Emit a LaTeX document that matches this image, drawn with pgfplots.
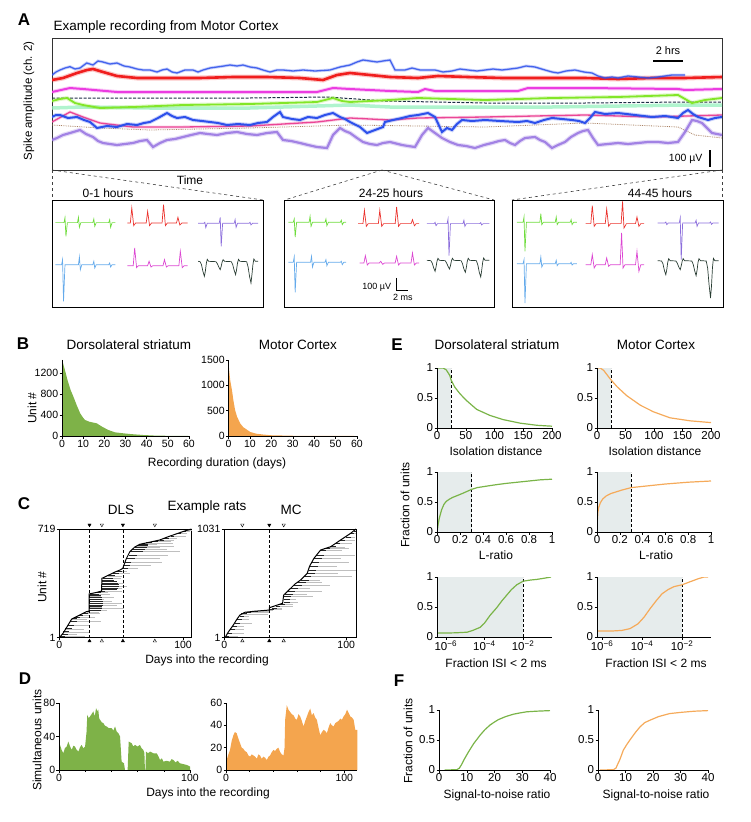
\documentclass[border=0pt]{standalone}
\usepackage{pgfplots}
\usepackage{pgfplotstable}
\pgfplotsset{compat=1.18}
\usepackage{fontspec}
\setmainfont{Liberation Sans}
\definecolor{bgreen}{RGB}{126,178,72}
\definecolor{borange}{RGB}{244,165,78}
\definecolor{lgreen}{RGB}{122,180,72}
\definecolor{lorange}{RGB}{245,170,90}
\definecolor{shade}{RGB}{230,236,236}
\definecolor{wg}{RGB}{110,220,60}
\definecolor{wr}{RGB}{235,50,45}
\definecolor{wp}{RGB}{140,110,220}
\definecolor{wb}{RGB}{100,170,235}
\definecolor{wm}{RGB}{220,70,210}
\definecolor{wk}{RGB}{40,60,50}
\definecolor{tb}{RGB}{45,80,235}
\definecolor{tr}{RGB}{240,30,30}
\definecolor{tm}{RGB}{235,60,225}
\definecolor{tn}{RGB}{30,45,70}
\definecolor{tg}{RGB}{130,230,40}
\definecolor{tt}{RGB}{150,240,190}
\definecolor{tp}{RGB}{235,70,150}
\definecolor{tbr}{RGB}{170,130,100}
\definecolor{tpu}{RGB}{150,115,225}
\newcommand\fP{\fontsize{17}{19}\selectfont\bfseries}
\newcommand\fT{\fontsize{13.5}{15}\selectfont}
\newcommand\fL{\fontsize{12}{14}\selectfont}
\newcommand\fK{\fontsize{10.5}{12}\selectfont}
\newcommand\fE{\fontsize{11.5}{13}\selectfont}
\newcommand\fS{\fontsize{9}{10}\selectfont}
\pgfplotsset{
  base/.style={scale only axis, axis line style={line width=0.6pt}, tick align=outside,
    major tick length=2.5pt, minor tick length=1.8pt, tick style={line width=0.5pt,black},
    /pgf/number format/assume math mode=true, /pgf/number format/1000 sep={},
    tick label style={font=\fK, inner sep=1.2pt}},
  lb/.style={base, axis x line*=bottom, axis y line*=left},
  ef/.style={lb, tick label style={font=\fE}, ymin=0, ymax=1, ytick={0,0.5,1}, axis on top, height=60pt},
  wave/.style={scale only axis, ymin=62, ymax=382, y dir=reverse, height=106.7pt,
    xtick=\empty, ytick=\empty, axis line style={line width=0.8pt}},
  fuzz/.style={preaction={draw, line width=#1, opacity=0.25}},
}
\pgfplotstableread{
x y l s
1 10 20 4
2 25 12 5
3 40 22 5
5 60 15 5
7 85 18 5
9 110 25 5
10.5 126 12 4
13 138 16 4
16 150 8 3
19 160 14 4
22 172 10 3
24.3 185 14 9
24.3 195 28 10
24.3 205 10 10
24.3 215 22 11
24.3 228 26 11
24.3 240 18 11
24.3 252 12 10
24.3 265 20 10
24.3 278 9 9
25 290 16 7
29 300 10 5
33 306 18 4
34.5 318 12 12
34.5 330 16 13
34.5 342 20 14
34.5 352 14 14
34.5 362 18 13
34.5 372 12 12
34.6 382 10 10
35 392 15 8
39 410 12 6
43 425 14 5
47 440 8 4
51.4 460 12 4
52 480 22 5
53 500 30 5
55 525 26 6
56 545 32 7
57.5 570 40 10
59 582 28 10
61 596 20 10
63 608 30 9
65 618 14 7
70 628 22 5
76 636 14 4
81 646 12 4
85 658 10 4
90 673 12 3
95 688 8 3
100 703 6 2
104 714 3 1.5
}\dlsC
\pgfplotstableread{
x y l s
1 15 10 3
2.5 45 14 4
4.5 80 12 4
6.5 110 10 4
8.5 140 14 4
10.5 175 10 4
12.5 205 8 4
14 228 22 5
17.5 243 20 4
25 252 12 3
32 258 8 3
37 268 10 4
39 282 8 4
42 300 14 4
46 318 10 4
48.8 340 12 5
48.8 365 10 5
48.8 390 24 6
50 415 18 6
52 440 28 6
54.5 468 16 6
56.5 495 30 7
60 525 20 7
62.5 548 16 7
65 585 40 6
68 612 25 6
69.5 643 38.5 6
70.5 680 22 6
72 715 30 6
73.5 752 22 7
75.5 785 32 6
78.5 830 18 5
82 846 20 5
87 862 12 5
91 893 14 4
95 925 12 4
99.5 955 8 4
103.5 988 4.5 3
106 1012 2 2
}\mcC
\begin{document}
\begin{tikzpicture}
\path[use as bounding box] (0pt,0pt) rectangle (750pt,-822pt);
%================ Panel A
\node[font=\fP] at (24pt,-20pt) {A};
\node[anchor=west, font=\fT] at (50pt,-27pt) {Example recording from Motor Cortex};
\node[rotate=90, font=\fontsize{11.5}{13}\selectfont] at (29pt,-101pt) {Spike amplitude (ch. 2)};
\begin{axis}[scale only axis, at={(52pt,-170pt)}, anchor=south west, width=670pt, height=132pt,
  xmin=52, xmax=722, ymin=38, ymax=170, y dir=reverse, xtick=\empty, ytick=\empty,
  axis line style={line width=0.9pt, black!80}]
\addplot[tt, line width=3.5pt, opacity=0.75] coordinates {(52,108)(83,107)(150,108)(250,108)(350,105)(390,107)(450,107)(552,107)(620,106)(685,105)(722,105)};
\addplot[tn, line width=1pt, dash pattern=on 3pt off 1.5pt] coordinates {(52,98)(150,98)(250,98)(327,97)(385,101)(485,103)(585,103)(685,102)(722,102)};
\addplot[tg, line width=1.8pt, fuzz=4pt] coordinates {(52,101)(60,99)(67,98)(75,103)(83,105)(100,108)(133,107)(183,105)(250,104)(317,102)(333,98)(342,101)(350,102)(390,100)(418,98)(485,100)(552,98)(618,97)(678,95)(692,103)(705,100)(722,98)};
\addplot[tm, line width=2pt, fuzz=4pt] coordinates {(52,92)(70,88)(83,89)(117,92)(183,92)(250,92)(317,92)(333,88)(350,89)(390,91)(418,92)(425,89)(435,91)(518,91)(528,88)(585,88)(678,89)(685,90)(722,89)};
\addplot[tr, line width=2.6pt, fuzz=5pt] coordinates {(52,80)(63,78)(77,73)(87,70)(93,69)(103,72)(117,76)(137,78)(167,78)(200,78)(233,77)(267,77)(300,78)(323,80)(337,75)(350,73)(370,75)(390,77)(418,78)(438,76)(468,77)(502,78)(552,78)(585,78)(618,79)(652,78)(685,78)(722,77)};
\addplot[tb, line width=1.3pt, opacity=0.85, fuzz=3pt] coordinates {(52,75)(56,72)(60,70)(65,68)(70,66.7)(75,69)(80,68)(86.7,63)(93,65)(98,61)(103,62)(110,64)(117,63)(124,66)(130,67)(137,69)(143,70)(150,70)(157,72)(162,70)(167,69)(172,72)(177,73)(185,70)(193,70)(198,72)(203,70)(210,68)(217,67)(224,66)(230,65)(237,66)(243,65)(250,67)(257,68)(263,70)(270,72)(277,70)(283,70)(293,71)(303,70)(315,71)(330,70)(340,67)(345,66)(350,65)(357,62)(363,60)(370,61)(377,62)(383,61)(390,60)(395,70)(405,70)(412,68)(420,70)(435,70)(443,72)(452,71)(460,69)(468,70)(477,71)(485,70)(493,69)(502,70)(510,69)(518,68)(526,66)(535,67)(545,70)(552,72)(558,73)(566,71)(575,70)(584,72)(592,73)(598,76)(605,78)(612,77)(618,78)(628,76)(638,77)(648,78)(658,77)(665,76)(672,75)(685,75)};
\addplot[tp, line width=1.3pt, fuzz=3pt] coordinates {(52,122)(70,112)(83,117)(100,123)(133,127)(183,127)(250,126)(317,122)(350,118)(390,120)(418,118)(485,117)(585,115)(652,117)(722,115)};
\addplot[tbr, line width=0.8pt, densely dotted] coordinates {(52,125)(100,128)(150,130)(250,128)(350,125)(485,127)(585,123)(678,127)(695,135)(722,138)};
\addplot[tb, line width=2pt, fuzz=4pt] coordinates {(52,117)(56,115)(60,115)(68,118)(77,117)(84,120)(90,122)(97,128)(107,126)(117,127)(127,124)(137,125)(144,123)(150,122)(158,118)(167,113)(172,116)(177,118)(185,117)(193,120)(202,121)(210,122)(218,123)(227,125)(238,124)(250,125)(258,123)(267,122)(273,117)(280,112)(283,117)(292,119)(300,120)(308,117)(317,118)(325,115)(333,113)(340,117)(345,119)(350,122)(360,127)(367,133)(375,130)(383,127)(385,122)(393,120)(402,118)(410,116)(418,115)(428,113)(435,117)(442,132)(447,128)(452,130)(457,124)(462,120)(472,121)(485,120)(500,121)(518,122)(527,121)(535,123)(544,120)(552,118)(562,119)(572,120)(579,121)(585,123)(590,118)(595,112)(605,114)(618,113)(635,115)(652,117)(665,116)(678,118)(683,113)(688,110)(693,114)(698,117)(708,120)(715,118)(722,117)};
\addplot[tpu, line width=2.2pt, opacity=0.85, fuzz=4.5pt] coordinates {(52,140)(57,138)(63,135)(70,133)(80,130)(86,134)(93,137)(98,141)(103,143)(110,144)(117,145)(125,144)(133,143)(140,141)(147,140)(153,147)(160,143)(167,140)(175,139)(183,137)(191,135)(200,133)(208,134)(217,135)(227,133)(237,132)(247,134)(257,135)(267,133)(277,132)(283,140)(291,141)(300,143)(308,145)(317,147)(327,148)(333,135)(340,128)(345,131)(350,133)(357,138)(363,142)(370,144)(377,145)(383,143)(390,142)(402,145)(408,146)(415,147)(422,135)(428,128)(435,133)(442,138)(450,142)(458,145)(466,146)(475,148)(484,145)(492,143)(499,141)(505,140)(510,143)(515,145)(520,141)(525,138)(535,137)(540,140)(545,142)(552,148)(558,145)(565,142)(571,137)(578,133)(583,131)(588,130)(593,138)(598,145)(608,144)(618,143)(628,144)(638,143)(648,142)(658,142)(668,143)(678,142)(685,132)(692,120)(697,121)(702,123)(707,128)(712,133)(717,134)(722,135)};
\draw[line width=2.5pt] (axis cs:653,61) -- (axis cs:683,61);
\node[font=\fontsize{11}{12}\selectfont] at (axis cs:668,51) {2 hrs};
\draw[line width=2.2pt] (axis cs:710,150) -- (axis cs:710,167);
\node[font=\fontsize{10.5}{12}\selectfont, anchor=east] at (axis cs:706,159) {100 µV};
\end{axis}
\node[font=\fL] at (190pt,-180pt) {Time};
\draw[dashed, line width=0.6pt, black!75] (52pt,-170pt) -- (52pt,-200pt);
\draw[dashed, line width=0.6pt, black!75] (52pt,-170pt) -- (263pt,-200pt);
\draw[dashed, line width=0.6pt, black!75] (382pt,-170pt) -- (284.6pt,-200pt);
\draw[dashed, line width=0.6pt, black!75] (382pt,-170pt) -- (494pt,-200pt);
\draw[dashed, line width=0.6pt, black!75] (722pt,-170pt) -- (512pt,-200pt);
\draw[dashed, line width=0.6pt, black!75] (722pt,-170pt) -- (722pt,-200pt);
\node[font=\fL] at (108pt,-193pt) {0-1 hours};
\node[font=\fL] at (391pt,-193pt) {24-25 hours};
\node[font=\fL] at (660pt,-193pt) {44-45 hours};
% waveform box 1
\begin{axis}[wave, at={(52pt,-307pt)}, anchor=south west, width=211pt, xmin=108, xmax=547]
\addplot[wg, line width=0.7pt] coordinates {(115,129)(133,129)(135,114)(137,170)(140,129)(161,129)(163,113)(165,143)(168,129)(193,129)(195,118)(197,140)(200,129)(226,129)(228,120)(230,143)(233,129)(240,129)};
\addplot[wr, line width=0.7pt] coordinates {(265,130)(271,130)(274,85)(278,138)(282,130)(304,130)(307,95)(311,138)(315,130)(337,130)(340,75)(344,138)(348,130)(367,130)(370,113)(374,136)(378,130)(390,130)};
\addplot[wp, line width=0.7pt] coordinates {(412,131)(424,131)(426,128)(428,144)(431,131)(456,131)(458,113)(460,200)(463,131)(487,131)(489,120)(491,143)(494,131)(518,131)(520,128)(522,136)(525,131)(537,131)};
\addplot[wb, line width=0.7pt] coordinates {(115,255)(128,255)(130,240)(132,365)(135,255)(163,255)(165,232)(167,270)(170,255)(193,255)(195,245)(197,265)(200,255)(226,255)(228,250)(230,262)(233,255)(240,255)};
\addplot[wm, line width=0.7pt] coordinates {(265,258)(277,258)(280,205)(284,264)(288,258)(307,258)(310,245)(314,262)(318,258)(339,258)(342,240)(346,262)(350,258)(372,258)(375,215)(379,264)(383,258)(390,258)};
\addplot[wk, line width=0.7pt] coordinates {(412,245)(416,246)(419,255)(422,275)(425,290)(427,275)(429,252)(431,239)(434,245)(449,246)(452,252)(455,262)(458,270)(460,260)(462,247)(464,240)(467,245)(481,246)(484,255)(487,272)(490,285)(492,270)(494,250)(496,239)(499,245)(513,246)(516,262)(519,290)(522,310)(524,285)(526,255)(528,238)(531,245)(537,245)};
\end{axis}
% waveform box 2
\begin{axis}[wave, at={(284.6pt,-307pt)}, anchor=south west, width=209.6pt, xmin=592, xmax=1028]
\addplot[wg, line width=0.7pt] coordinates {(600,128)(610,128)(612,118)(614,172)(617,128)(643,128)(645,110)(647,140)(650,128)(676,128)(678,118)(680,138)(683,128)(708,128)(710,122)(712,135)(715,128)(720,128)};
\addplot[wr, line width=0.7pt] coordinates {(745,132)(755,132)(758,92)(762,140)(766,132)(787,132)(790,92)(794,140)(798,132)(822,132)(825,82)(829,140)(833,132)(855,132)(858,120)(862,138)(866,132)(872,132)};
\addplot[wp, line width=0.7pt] coordinates {(888,132)(903,132)(905,128)(907,138)(910,132)(930,132)(932,118)(934,228)(937,132)(963,132)(965,122)(967,140)(970,132)(998,132)(1000,129)(1002,136)(1005,132)(1018,132)};
\addplot[wb, line width=0.7pt] coordinates {(600,248)(610,248)(612,232)(614,338)(617,248)(646,248)(648,230)(650,262)(653,248)(676,248)(678,240)(680,258)(683,248)(708,248)(710,245)(712,255)(715,248)(720,248)};
\addplot[wm, line width=0.7pt] coordinates {(748,250)(757,250)(760,228)(764,256)(768,250)(789,250)(792,245)(796,254)(800,250)(822,250)(825,230)(829,256)(833,250)(855,250)(858,220)(862,256)(866,250)(872,250)};
\addplot[wk, line width=0.7pt] coordinates {(888,242)(896,243)(899,250)(902,264)(905,275)(907,262)(909,245)(911,236)(914,242)(926,243)(929,250)(932,260)(935,268)(937,258)(939,244)(941,236)(944,242)(959,243)(962,252)(965,268)(968,278)(970,264)(972,245)(974,236)(977,242)(991,243)(994,256)(997,278)(1000,292)(1002,272)(1004,248)(1006,235)(1009,242)(1018,242)};
\draw[line width=0.8pt] (axis cs:825,295) -- (axis cs:825,333) -- (axis cs:848,333);
\node[font=\fS, anchor=east] at (axis cs:821,322) {100 µV};
\node[font=\fS] at (axis cs:838,352) {2 ms};
\end{axis}
% waveform box 3
\begin{axis}[wave, at={(512pt,-307pt)}, anchor=south west, width=211.5pt, xmin=1065, xmax=1505]
\addplot[wg, line width=0.7pt] coordinates {(1075,128)(1088,128)(1090,112)(1092,215)(1095,128)(1123,128)(1125,102)(1127,135)(1130,128)(1155,128)(1157,112)(1159,135)(1162,128)(1186,128)(1188,120)(1190,135)(1193,128)(1200,128)};
\addplot[wr, line width=0.7pt] coordinates {(1218,132)(1229,132)(1232,78)(1236,140)(1240,132)(1259,132)(1262,88)(1266,140)(1270,132)(1292,132)(1295,65)(1298,145)(1303,132)(1322,132)(1325,112)(1329,140)(1333,132)(1340,132)};
\addplot[wp, line width=0.7pt] coordinates {(1368,130)(1383,130)(1385,127)(1387,135)(1390,130)(1413,130)(1415,115)(1417,240)(1420,130)(1446,130)(1448,122)(1450,140)(1453,130)(1476,130)(1478,127)(1480,134)(1483,130)(1495,130)};
\addplot[wb, line width=0.7pt] coordinates {(1075,252)(1088,252)(1090,240)(1092,370)(1095,252)(1123,252)(1125,232)(1127,262)(1130,252)(1155,252)(1157,242)(1159,258)(1162,252)(1186,252)(1188,248)(1190,256)(1193,252)(1200,252)};
\addplot[wm, line width=0.7pt] coordinates {(1218,255)(1229,255)(1232,225)(1236,265)(1240,255)(1259,255)(1262,235)(1266,260)(1270,255)(1290,255)(1293,160)(1296,265)(1300,255)(1322,255)(1325,215)(1329,275)(1333,255)(1340,255)};
\addplot[wk, line width=0.7pt] coordinates {(1368,243)(1376,244)(1379,252)(1382,272)(1385,285)(1387,270)(1389,248)(1391,237)(1394,243)(1406,244)(1409,251)(1412,262)(1415,270)(1417,259)(1419,245)(1421,237)(1424,243)(1439,244)(1442,254)(1445,273)(1448,288)(1450,272)(1452,248)(1454,237)(1457,243)(1469,244)(1472,265)(1475,315)(1478,355)(1480,320)(1482,265)(1484,236)(1487,243)(1495,243)};
\end{axis}
%================ Panel B
\node[font=\fP] at (23pt,-344pt) {B};
\node[font=\fT] at (129pt,-345pt) {Dorsolateral striatum};
\node[font=\fT] at (298pt,-345pt) {Motor Cortex};
\node[rotate=90, font=\fL] at (32pt,-408pt) {Unit \#};
\begin{axis}[lb, axis on top, at={(62pt,-436pt)}, anchor=south west, width=127pt, height=76.4pt,
  xmin=0, xmax=60, ymin=0, ymax=1450, xtick={0,10,...,60}, ytick={0,400,800,1200}]
\addplot[fill=bgreen, draw=none] coordinates {(0,1450)(0.5,1380)(1.4,1250)(2.6,1063)(4,880)(5.4,746)(7,580)(8.6,430)(10,345)(10.9,304)(13,270)(16.4,241)(19,175)(21.9,114)(25,70)(29,51)(33,35)(38.4,19)(44,8)(50,4)(55,2)(60,0)} \closedcycle;
\end{axis}
\begin{axis}[lb, axis on top, at={(228.5pt,-436pt)}, anchor=south west, width=128.5pt, height=76pt,
  xmin=0, xmax=60, ymin=0, ymax=1500, xtick={0,10,...,60}, ytick={0,500,1000,1500}]
\addplot[fill=borange, draw=none] coordinates {(0,1500)(0.3,1300)(0.8,1100)(1.6,909)(2.3,700)(3.1,509)(4,380)(5.5,246)(7,170)(10.2,79)(13,45)(16.4,28)(20,15)(30,5)(40,2)(60,0)} \closedcycle;
\end{axis}
\node[font=\fL] at (217pt,-463pt) {Recording duration (days)};
%================ Panel C
\node[font=\fP] at (24pt,-504pt) {C};
\node[font=\fT] at (121pt,-510pt) {DLS};
\node[font=\fT] at (207pt,-507pt) {Example rats};
\node[font=\fT] at (291pt,-510pt) {MC};
\node[rotate=90, font=\fL] at (42pt,-587pt) {Unit \#};
\begin{axis}[base, tick pos=left, clip=false, at={(59.3pt,-637.7pt)}, anchor=south west, width=132.4pt, height=108.7pt,
  xmin=0, xmax=107, ymin=1, ymax=719, xtick={0,100}, ytick={1,719}]
\addplot[gray!50, line width=0.5pt, quiver={u=\thisrow{l}, v=0}] table[x=x,y=y] {\dlsC};
\addplot[black!85, line width=0.7pt, quiver={u=\thisrow{s}, v=0}] table[x=x,y=y] {\dlsC};
\addplot[black, line width=1pt] coordinates {(0,1)(3,30)(6,70)(10,124)(15,145)(22,173)(24.2,177)(24.2,290)(30,300)(34.2,309)(34.4,393)(40,415)(45,435)(49,448)(51.3,459)(54,520)(57,569)(61,600)(65,618)(72,630)(81,646)(88,668)(95,688)(101,705)(106.8,719)};
\addplot[black, line width=0.5pt, dash pattern=on 3pt off 2pt] coordinates {(24.4,1)(24.4,719)};
\addplot[black, line width=0.5pt, dash pattern=on 3pt off 2pt] coordinates {(51.4,1)(51.4,719)};
\addplot[only marks, mark=triangle*, mark size=1.9pt, mark options={rotate=180, fill=black}] coordinates {(24.4,746)(51.4,746)};
\addplot[only marks, mark=triangle*, mark size=1.9pt, mark options={rotate=180, fill=white, draw=black, line width=0.4pt}] coordinates {(34.4,746)(77.2,746)};
\addplot[only marks, mark=triangle*, mark size=1.9pt, mark options={fill=black}] coordinates {(24.4,-21)(51.4,-21)};
\addplot[only marks, mark=triangle*, mark size=1.9pt, mark options={fill=white, draw=black, line width=0.4pt}] coordinates {(34.4,-21)(77.2,-21)};
\end{axis}
\begin{axis}[base, tick pos=left, clip=false, at={(224.3pt,-637.7pt)}, anchor=south west, width=131.7pt, height=108.7pt,
  xmin=0, xmax=108, ymin=1, ymax=1031, xtick={0,100}, ytick={1,1031}]
\addplot[gray!50, line width=0.5pt, quiver={u=\thisrow{l}, v=0}] table[x=x,y=y] {\mcC};
\addplot[black!85, line width=0.7pt, quiver={u=\thisrow{s}, v=0}] table[x=x,y=y] {\mcC};
\addplot[black, line width=1pt] coordinates {(0.6,1)(3,50)(7.4,121)(10,170)(12.8,216)(16.9,242)(25,252)(36.9,263)(36.9,285)(42,305)(47.8,327)(48.7,405)(54.4,469)(58,510)(62.6,548)(68,611)(70,680)(73.5,753)(79,832)(87.2,863)(95.4,927)(103.6,990)(108,1031)};
\addplot[black, line width=0.5pt, dash pattern=on 3pt off 2pt] coordinates {(36.9,1)(36.9,1031)};
\addplot[only marks, mark=triangle*, mark size=1.9pt, mark options={rotate=180, fill=black}] coordinates {(36.9,1069)};
\addplot[only marks, mark=triangle*, mark size=1.9pt, mark options={rotate=180, fill=white, draw=black, line width=0.4pt}] coordinates {(14.8,1069)(48.7,1069)};
\addplot[only marks, mark=triangle*, mark size=1.9pt, mark options={fill=black}] coordinates {(36.9,-29)};
\addplot[only marks, mark=triangle*, mark size=1.9pt, mark options={fill=white, draw=black, line width=0.4pt}] coordinates {(14.8,-29)(48.7,-29)};
\end{axis}
\node[font=\fL] at (207pt,-660pt) {Days into the recording};
%================ Panel D
\node[font=\fP] at (25pt,-679pt) {D};
\node[rotate=90, font=\fL] at (37pt,-740pt) {Simultaneous units};
\begin{axis}[lb, axis on top, at={(59pt,-770pt)}, anchor=south west, width=131pt, height=67pt,
  xmin=0, xmax=100, ymin=0, ymax=80, xtick={0,100}, minor xtick={20,40,60,80}, ytick={0,40,80}]
\addplot[fill=bgreen, draw=none] coordinates {(0,30)(0.8,30)(2,24)(3.3,20)(4.5,26)(5.9,28)(7.1,34)(8.5,28)(9.7,24)(11,29)(12.2,28)(13.5,24)(14.8,22)(16,27)(17.3,30)(18.6,26)(19.9,28)(21,45)(21.6,66)(22.6,62)(23.7,64)(25,67)(26.2,70)(27.3,64)(28.3,74)(29.2,70)(30,72)(30.6,62)(31.3,60)(32.6,57)(33.9,56)(35,53)(36.4,52)(38,50)(40.2,50)(41.5,47)(42.8,52)(44,46)(45.3,44)(46.6,40)(47.2,25)(47.8,10)(49.6,8)(50.4,0)(52.4,0)(53.2,34)(54.3,33)(55.5,32)(56.8,28)(58,30)(60,28)(61.8,30)(63,26)(64.4,24)(65.2,20)(65.6,0)(66,0)(66.4,22)(68,20)(69.5,22)(72,20)(74.6,20)(76,16)(77.1,12)(78.5,14)(79.7,10)(82,11)(84.7,10)(86,13)(87.3,12)(89,9)(90.5,11)(92.4,8)(95,7)(97.5,6)(99,5)(100,4)} \closedcycle;
\end{axis}
\begin{axis}[lb, axis on top, at={(226pt,-770pt)}, anchor=south west, width=131.3pt, height=67pt,
  xmin=0, xmax=111, ymin=0, ymax=60, xtick={0,100}, minor xtick={20,40,60,80}, ytick={0,20,40,60}]
\addplot[fill=borange, draw=none] coordinates {(0,8)(0.6,9)(2,14)(3.4,18)(4.8,26)(6.2,31)(7.5,34)(9,33)(10.5,28)(11.9,24)(13.3,20)(14.7,19)(16,17)(17.5,16)(19,13)(20.3,12)(21.8,14)(23.2,13)(24.6,12)(26,10)(27.4,14)(28.8,13)(30.2,10)(31.6,12)(33,11)(34.5,9)(35.9,12)(37.3,13)(38.7,16)(40.1,18)(41.5,17)(42.9,19)(44.3,20)(45.8,16)(47.2,14)(48.6,13)(49.5,20)(50,45)(51.4,58)(52.8,54)(54.2,52)(55.6,50)(57.1,49)(58.5,46)(59.9,45)(61.3,50)(62.7,48)(64.1,44)(65.5,39)(67,44)(68.4,48)(69.8,52)(71.2,55)(72.6,49)(74,51)(75.4,47)(76.8,45)(78.2,38)(79.7,31)(81.1,34)(82.5,36)(83.9,35)(85.3,33)(86.7,38)(88.1,42)(89.5,40)(91,39)(92.4,42)(93.8,43)(95.2,44)(96.6,46)(98,45)(99.4,48)(100.8,50)(102.3,54)(103.7,51)(105.1,48)(106.5,47)(107.9,45)(109.3,36)(111,36)} \closedcycle;
\end{axis}
\node[font=\fL] at (208pt,-793pt) {Days into the recording};
%================ Panel E
\node[font=\fP] at (397pt,-345pt) {E};
\node[font=\fT] at (497pt,-345pt) {Dorsolateral striatum};
\node[font=\fT] at (656pt,-345pt) {Motor Cortex};
\node[rotate=90, font=\fL] at (405pt,-505pt) {Fraction of units};
% row 1
\begin{axis}[ef, at={(437pt,-428pt)}, anchor=south west, width=115pt, xmin=0, xmax=200, xtick={0,50,...,200}]
\addplot[fill=shade, draw=none] coordinates {(0,1)(25,1)} \closedcycle;
\addplot[black, line width=0.6pt, dash pattern=on 3pt off 2pt] coordinates {(25,0)(25,1)};
\addplot[lgreen, line width=1.2pt] coordinates {(0,1)(10.5,1)(16,0.97)(22,0.88)(25,0.79)(31,0.68)(40,0.57)(51,0.46)(69,0.31)(92,0.21)(115,0.14)(145,0.08)(174,0.045)(200,0.03)};
\end{axis}
\begin{axis}[ef, at={(597pt,-428pt)}, anchor=south west, width=114pt, xmin=0, xmax=200, xtick={0,50,...,200}]
\addplot[fill=shade, draw=none] coordinates {(0,1)(25,1)} \closedcycle;
\addplot[black, line width=0.6pt, dash pattern=on 3pt off 2pt] coordinates {(25,0)(25,1)};
\addplot[lorange, line width=1.2pt] coordinates {(0,1)(5.8,1)(11.7,0.96)(23,0.82)(35,0.69)(52,0.54)(76,0.38)(99,0.27)(128,0.17)(163,0.12)(200,0.09)};
\end{axis}
\node[font=\fL] at (496pt,-451pt) {Isolation distance};
\node[font=\fL] at (655pt,-451pt) {Isolation distance};
% row 2
\begin{axis}[ef, at={(437pt,-532pt)}, anchor=south west, width=115pt, xmin=0, xmax=1, xtick={0,0.2,...,1}]
\addplot[fill=shade, draw=none] coordinates {(0,1)(0.3,1)} \closedcycle;
\addplot[black, line width=0.6pt, dash pattern=on 3pt off 2pt] coordinates {(0.3,0)(0.3,1)};
\addplot[lgreen, line width=1.2pt] coordinates {(0,0)(0.005,0.06)(0.01,0.13)(0.02,0.23)(0.04,0.37)(0.06,0.46)(0.08,0.51)(0.11,0.55)(0.14,0.58)(0.18,0.61)(0.23,0.65)(0.3,0.71)(0.35,0.74)(0.45,0.77)(0.52,0.79)(0.6,0.81)(0.7,0.83)(0.8,0.85)(0.9,0.87)(1,0.88)};
\end{axis}
\begin{axis}[ef, at={(597pt,-532pt)}, anchor=south west, width=114pt, xmin=0, xmax=1, xtick={0,0.2,...,1}]
\addplot[fill=shade, draw=none] coordinates {(0,1)(0.3,1)} \closedcycle;
\addplot[black, line width=0.6pt, dash pattern=on 3pt off 2pt] coordinates {(0.3,0)(0.3,1)};
\addplot[lorange, line width=1.2pt] coordinates {(0,0)(0.003,0.2)(0.008,0.33)(0.015,0.41)(0.03,0.49)(0.05,0.55)(0.08,0.6)(0.12,0.64)(0.17,0.67)(0.22,0.7)(0.3,0.74)(0.4,0.76)(0.5,0.78)(0.6,0.8)(0.8,0.83)(1,0.85)};
\end{axis}
\node[font=\fL] at (496pt,-555pt) {L-ratio};
\node[font=\fL] at (656pt,-555pt) {L-ratio};
% row 3
\begin{axis}[ef, at={(437pt,-637pt)}, anchor=south west, width=115pt, xmode=log, xmin=3.5e-7, xmax=0.316,
  xtick={1e-6,1e-4,1e-2}, xticklabels={10\textsuperscript{−6},10\textsuperscript{−4},10\textsuperscript{−2}}, xminorticks=false]
\addplot[fill=shade, draw=none] coordinates {(3.5e-7,1)(1e-2,1)} \closedcycle;
\addplot[black, line width=0.6pt, dash pattern=on 3pt off 2pt] coordinates {(1e-2,0)(1e-2,1)};
\addplot[lgreen, line width=1.2pt] coordinates {(3.5e-7,0.065)(1e-6,0.066)(3.2e-6,0.07)(1.26e-5,0.08)(2.5e-5,0.11)(5.9e-5,0.16)(1e-4,0.23)(1.95e-4,0.36)(4.4e-4,0.49)(7.9e-4,0.6)(1.45e-3,0.7)(2.5e-3,0.79)(4.7e-3,0.87)(1e-2,0.93)(2.5e-2,0.95)(5.1e-2,0.96)(0.126,0.98)(0.28,1.0)};
\end{axis}
\begin{axis}[ef, at={(597pt,-637pt)}, anchor=south west, width=114pt, xmode=log, xmin=5.6e-7, xmax=0.282,
  xtick={1e-6,1e-4,1e-2}, xticklabels={10\textsuperscript{−6},10\textsuperscript{−4},10\textsuperscript{−2}}, xminorticks=false]
\addplot[fill=shade, draw=none] coordinates {(5.6e-7,1)(1e-2,1)} \closedcycle;
\addplot[black, line width=0.6pt, dash pattern=on 3pt off 2pt] coordinates {(1e-2,0)(1e-2,1)};
\addplot[lorange, line width=1.2pt] coordinates {(5.6e-7,0.1)(3.2e-6,0.1)(1e-5,0.11)(2.5e-5,0.14)(6.3e-5,0.22)(1.26e-4,0.33)(2.5e-4,0.47)(5e-4,0.6)(1e-3,0.72)(2e-3,0.79)(4e-3,0.84)(1e-2,0.87)(2.5e-2,0.92)(6.3e-2,0.97)(0.126,1.0)(0.2,1.0)};
\end{axis}
\node[font=\fL] at (496pt,-663pt) {Fraction ISI < 2 ms};
\node[font=\fL] at (656pt,-663pt) {Fraction ISI < 2 ms};
%================ Panel F
\node[font=\fP] at (399pt,-681pt) {F};
\node[rotate=90, font=\fL] at (408pt,-741pt) {Fraction of units};
\begin{axis}[ef, at={(439pt,-770pt)}, anchor=south west, width=111pt, xmin=0, xmax=40, xtick={0,10,...,40}]
\addplot[lgreen, line width=1.2pt] coordinates {(2,0)(6.4,0.005)(7.3,0.03)(8,0.08)(9,0.17)(10.6,0.3)(12.5,0.44)(14.8,0.58)(16.5,0.67)(18.4,0.75)(20,0.8)(21.4,0.84)(24,0.89)(26.8,0.93)(29,0.95)(31.6,0.97)(35,0.98)(40,0.99)};
\end{axis}
\begin{axis}[ef, at={(598pt,-770pt)}, anchor=south west, width=110pt, xmin=0, xmax=40, xtick={0,10,...,40}]
\addplot[lorange, line width=1.2pt] coordinates {(0.7,0)(5.6,0.005)(6.5,0.03)(7,0.08)(8,0.18)(9.2,0.33)(10.4,0.42)(11.6,0.5)(13.5,0.62)(15.3,0.72)(17,0.79)(18.9,0.83)(22,0.89)(26,0.94)(30,0.96)(35,0.98)(40,0.99)};
\end{axis}
\node[font=\fL] at (497pt,-795pt) {Signal-to-noise ratio};
\node[font=\fL] at (656pt,-795pt) {Signal-to-noise ratio};
\end{tikzpicture}
\end{document}
